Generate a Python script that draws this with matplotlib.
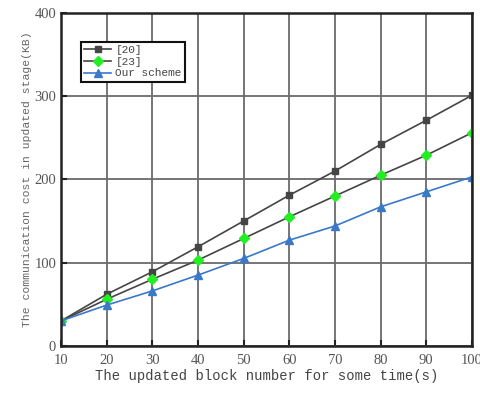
import matplotlib
matplotlib.use("Agg")
import matplotlib.pyplot as plt

# block numbers on the x axis
blocks = [10, 20, 30, 40, 50, 60, 70, 80, 90, 100]

# communication cost (KB) per scheme
cost_20 = [30, 62, 89, 119, 150, 181, 210, 242, 271, 301]
cost_23 = [30, 56, 80, 103, 129, 155, 180, 205, 229, 256]
cost_ours = [30, 49, 66, 85, 105, 127, 144, 167, 185, 203]

labels = ['[20]', '[23]', 'Our scheme']

fig = plt.figure(figsize=(4.81, 3.93), dpi=100, facecolor='white')
ax = fig.add_axes([0.127, 0.12, 0.854, 0.847])

ax.plot(blocks, cost_20, color='#454545', marker='s', markersize=5, linewidth=1.2, label=labels[0])
ax.plot(blocks, cost_23, color='#454545', marker='D', markersize=5, markerfacecolor='#22ee22',
        markeredgecolor='#22ee22', linewidth=1.2, label=labels[1])
ax.plot(blocks, cost_ours, color='#3a78c8', marker='^', markersize=6, linewidth=1.2, label=labels[2])

ax.set_xlim(10, 100)
ax.set_ylim(0, 400)
ax.set_xticks(blocks)
ax.set_yticks([0, 100, 200, 300, 400])
ax.grid(True, color='#6a6a6a', linewidth=1.3)
ax.tick_params(direction='in', length=4, width=1.5, labelsize=10.5, colors='#222222')
ax.tick_params(axis='x', pad=6)
for lbl in ax.get_xticklabels() + ax.get_yticklabels():
    lbl.set_family('Liberation Serif')
    lbl.set_color('#555555')
for sp in ax.spines.values():
    sp.set_linewidth(1.8)
    sp.set_color('#222222')

ax.set_xlabel('The updated block number for some time(s)', family='Liberation Mono',
              fontsize=10, color='#444444', labelpad=1)
ax.set_ylabel('The communication cost in updated stage(KB)', family='Liberation Mono',
              fontsize=8.2, color='#666666', labelpad=2)

leg = ax.legend(loc='upper left', bbox_to_anchor=(0.035, 0.93), fancybox=False, framealpha=1,
                prop={'family': 'Liberation Mono', 'size': 8}, borderpad=0.3,
                labelspacing=0.15, handlelength=2.4, handletextpad=0.4)
leg.get_frame().set_edgecolor('#111111')
leg.get_frame().set_linewidth(1.5)
for t in leg.get_texts():
    t.set_color('#444444')

fig.savefig('out.png', dpi=100)
